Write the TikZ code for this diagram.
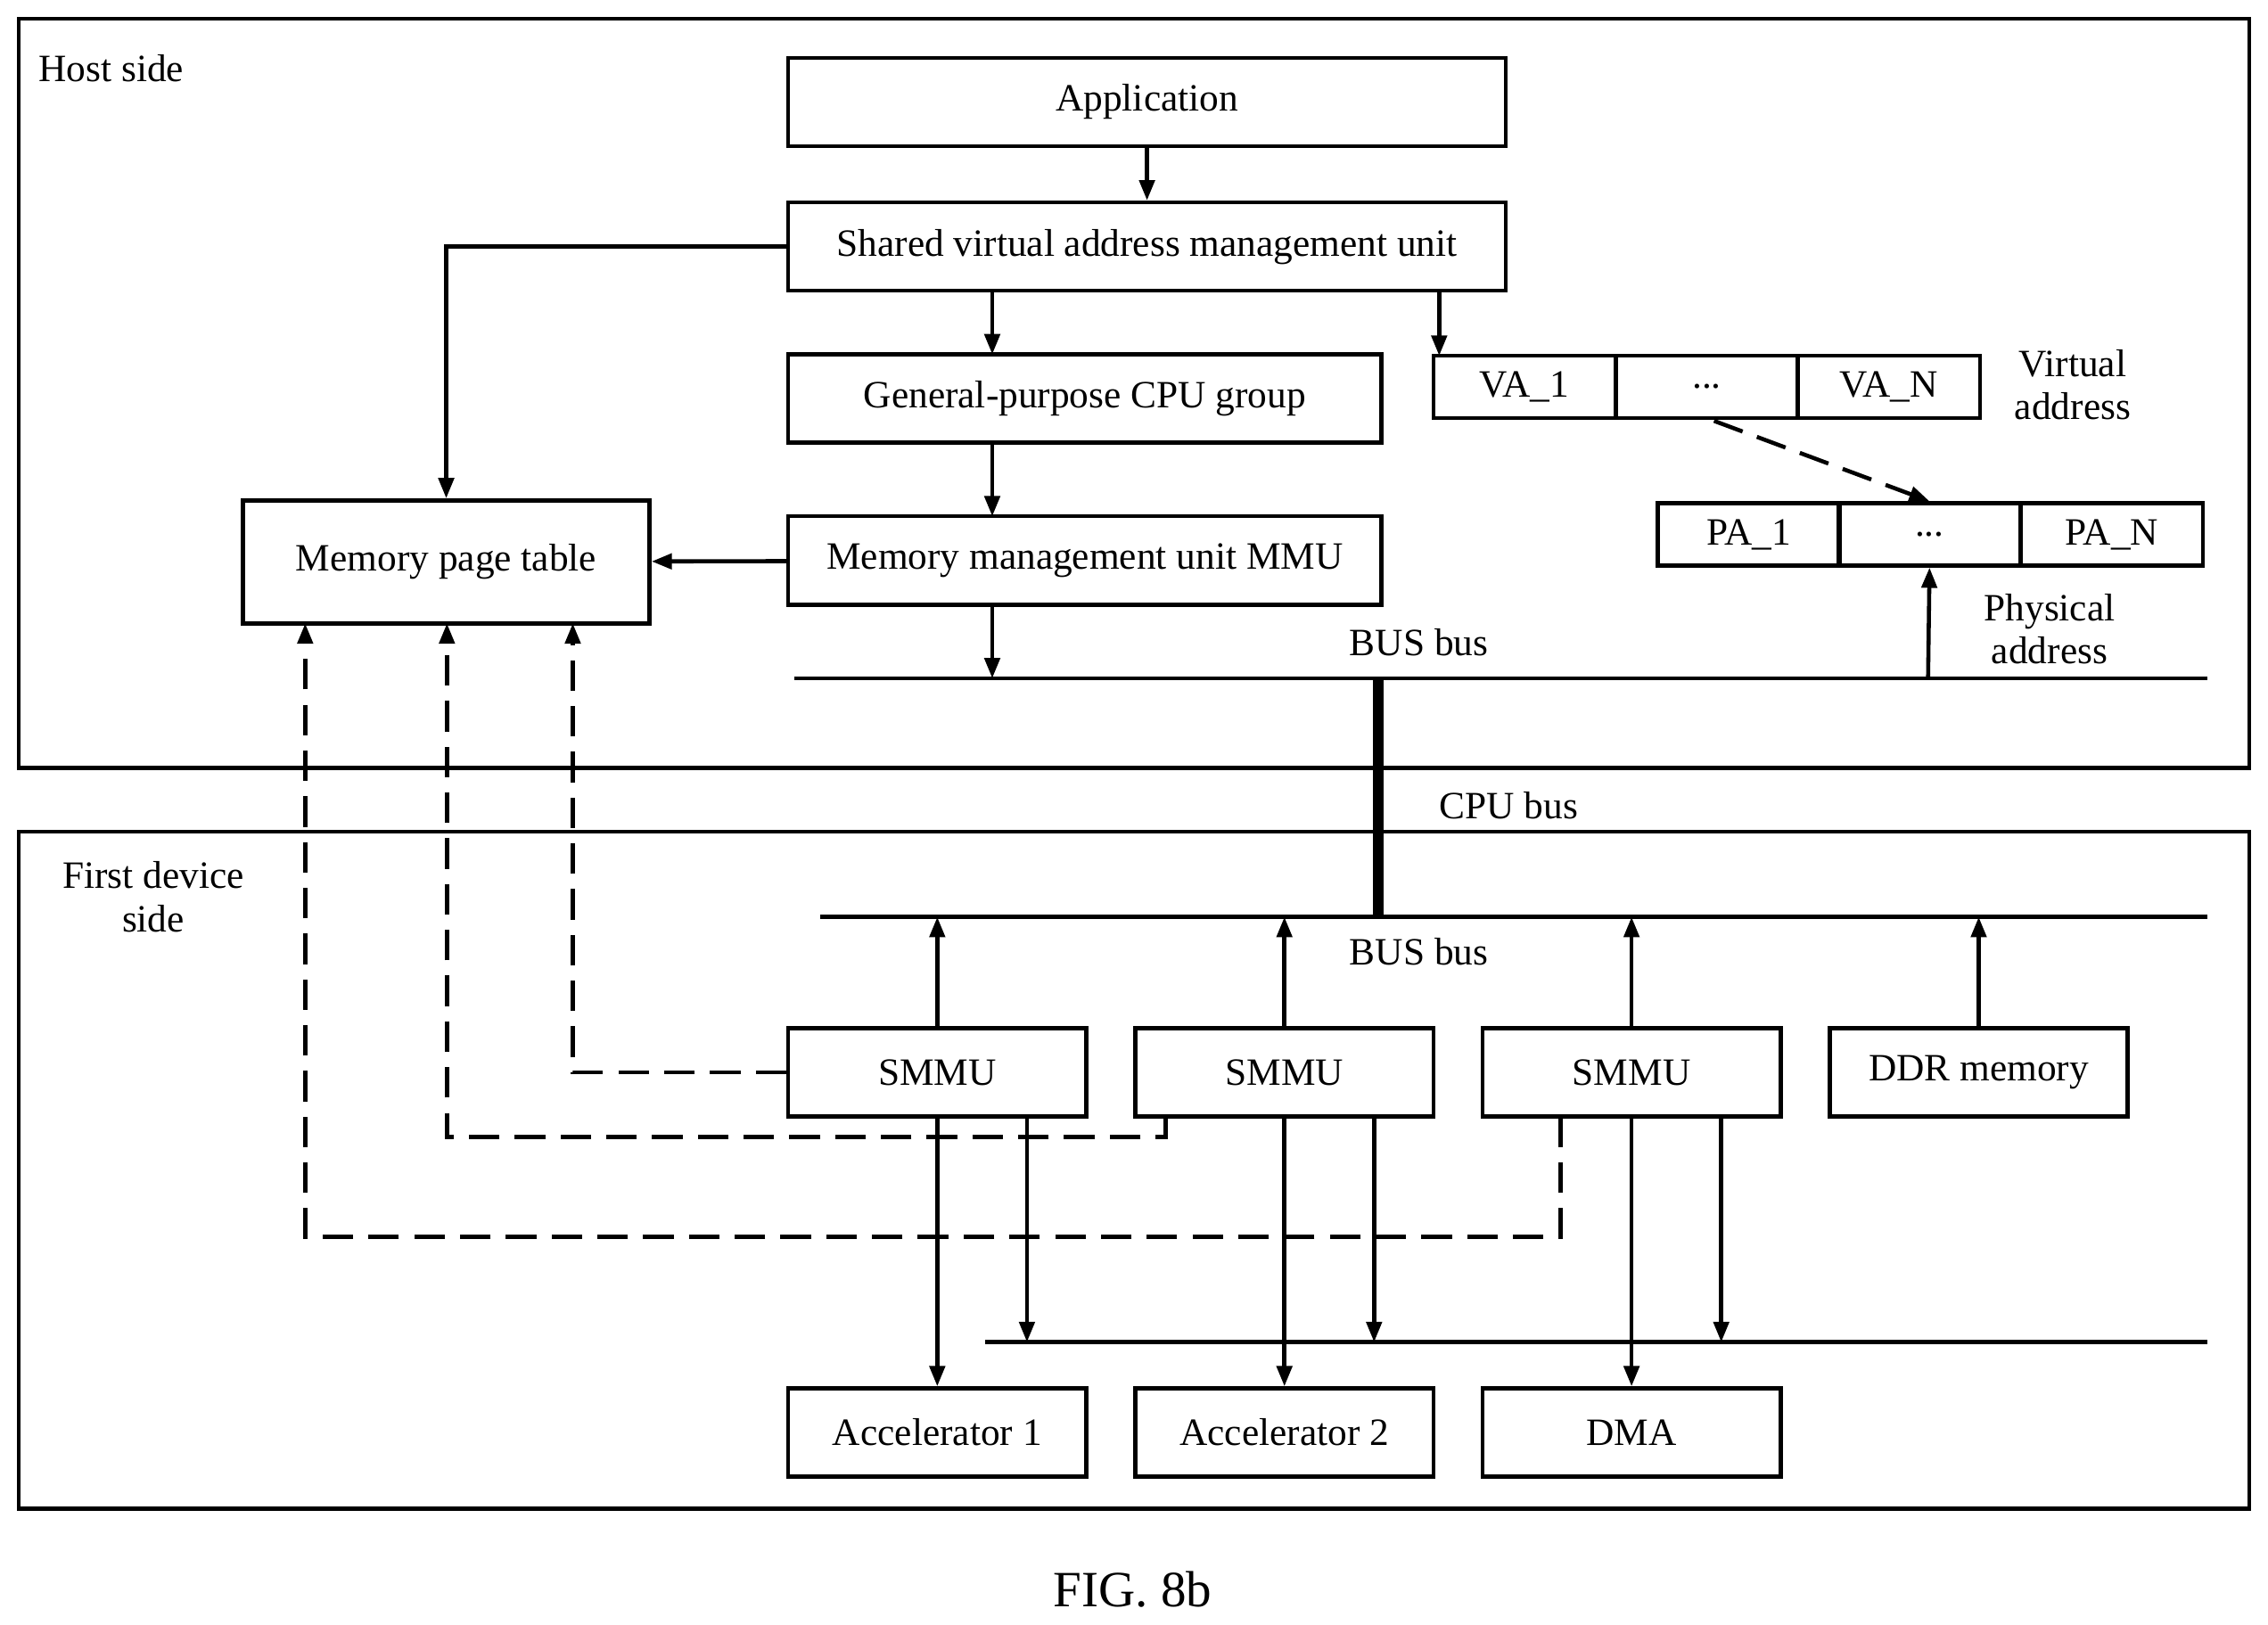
\documentclass[tikz,border=0pt]{standalone}
\usepackage{fontspec}
\setmainfont{Liberation Serif}
\usetikzlibrary{arrows.meta}

\begin{document}
\begin{tikzpicture}[x=0.01cm,y=-0.01cm,
  font=\fontsize{7.6pt}{8.5pt}\selectfont,
  >={Triangle[length=4pt,width=3pt]},
  box/.style={draw,thick,minimum height=0.61cm,inner sep=0pt},
  cell/.style={draw,thick,minimum height=0.43cm,minimum width=1.26cm,inner sep=0pt},
  dsh/.style={thick,dashed,dash pattern=on 6pt off 3pt}]
  \useasboundingbox (0,0) rectangle (1568,1123);

  \draw[thick] (13,13) rectangle (1555,531);
  \draw[thick] (13,575) rectangle (1555,1043);
  \node (host) at (77,47){Host side};
  \node[align=center] (dev) at (106,620){First device\\side};

  \node[box,minimum width=4.96cm] (app) at (793,70.5){Application};
  \node[box,minimum width=4.96cm] (svam) at (793,170.5){Shared virtual address management unit};
  \node[box,minimum width=4.10cm] (cpu) at (750,275.5){General-purpose CPU group};
  \node[box,minimum width=4.10cm] (mmu) at (750,387.5){Memory management unit MMU};
  \node[box,minimum width=2.81cm,minimum height=0.85cm] (mpt) at (308.5,388.5){Memory page table};

  \node[cell] (va1) at (1054,267.5){VA\_1};
  \node[cell] (va2) at (1180,267.5){...};
  \node[cell] (va3) at (1306,267.5){VA\_N};
  \node[align=center] (vat) at (1433,266){Virtual\\address};
  \node[cell] (pa1) at (1209,369.5){PA\_1};
  \node[cell] (pa2) at (1334,369.5){...};
  \node[cell] (pa3) at (1460,369.5){PA\_N};
  \node[align=center] (pat) at (1417,435){Physical\\address};

  \coordinate (b1l) at (549,469);
  \coordinate (b1r) at (1526,469);
  \coordinate (b2l) at (567,634);
  \coordinate (b2r) at (1526,634);
  \coordinate (b3l) at (681,928);
  \coordinate (b3r) at (1526,928);
  \draw[thick] (b1l) -- (b1r);
  \draw[thick] (b2l) -- (b2r);
  \draw[thick] (b3l) -- (b3r);
  \draw[line width=2.2pt] (953,469) -- (953,634);
  \node (bus1) at (981,444){BUS bus};
  \node (bus2) at (981,658){BUS bus};
  \node (cbus) at (1043,557){CPU bus};

  \node[box,minimum width=2.06cm] (s1) at (648,741.5){SMMU};
  \node[box,minimum width=2.06cm] (s2) at (888,741.5){SMMU};
  \node[box,minimum width=2.06cm] (s3) at (1128,741.5){SMMU};
  \node[box,minimum width=2.06cm] (ddr) at (1368,741.5){DDR memory};
  \node[box,minimum width=2.06cm] (a1) at (648,990.5){Accelerator 1};
  \node[box,minimum width=2.06cm] (a2) at (888,990.5){Accelerator 2};
  \node[box,minimum width=2.06cm] (dma) at (1128,990.5){DMA};

  \draw[thick,->] (app) -- (svam);
  \draw[thick,->] (svam.south -| cpu.north -| 686,0) -- (686,245);
  \draw[thick,->] (995,201) -- (995,246);
  \draw[thick,->] (686,306) -- (686,357);
  \draw[thick,->] (686,418) -- (686,469);
  \draw[thick,->] (mmu) -- (mpt);
  \draw[thick,->] (svam.west) -| (mpt.north);
  \draw[thick,->] (1333,469) -- (pa2.south);
  \draw[dsh,->] (1185,291) -- (pa2.north);

  \foreach \n in {s1,s2,s3,ddr}
    \draw[thick,->] (\n.north) -- (\n.north |- b2l);
  \foreach \n/\m/\x in {s1/a1/710,s2/a2/950,s3/dma/1190}{
    \draw[thick,->] (\n.south) -- (\m.north);
    \draw[thick,->] (\n.south -| \x,0) -- (\x,928);
  }

  \draw[dsh,->] (s1.west) -| (396,431);
  \draw[dsh,->] (806,772) |- (309,786) -- (309,431);
  \draw[dsh,->] (1079,772) |- (211,855) -- (211,431);

  \node[font=\fontsize{10pt}{11pt}\selectfont] (fig) at (783,1099){FIG. 8b};
\end{tikzpicture}
\end{document}
